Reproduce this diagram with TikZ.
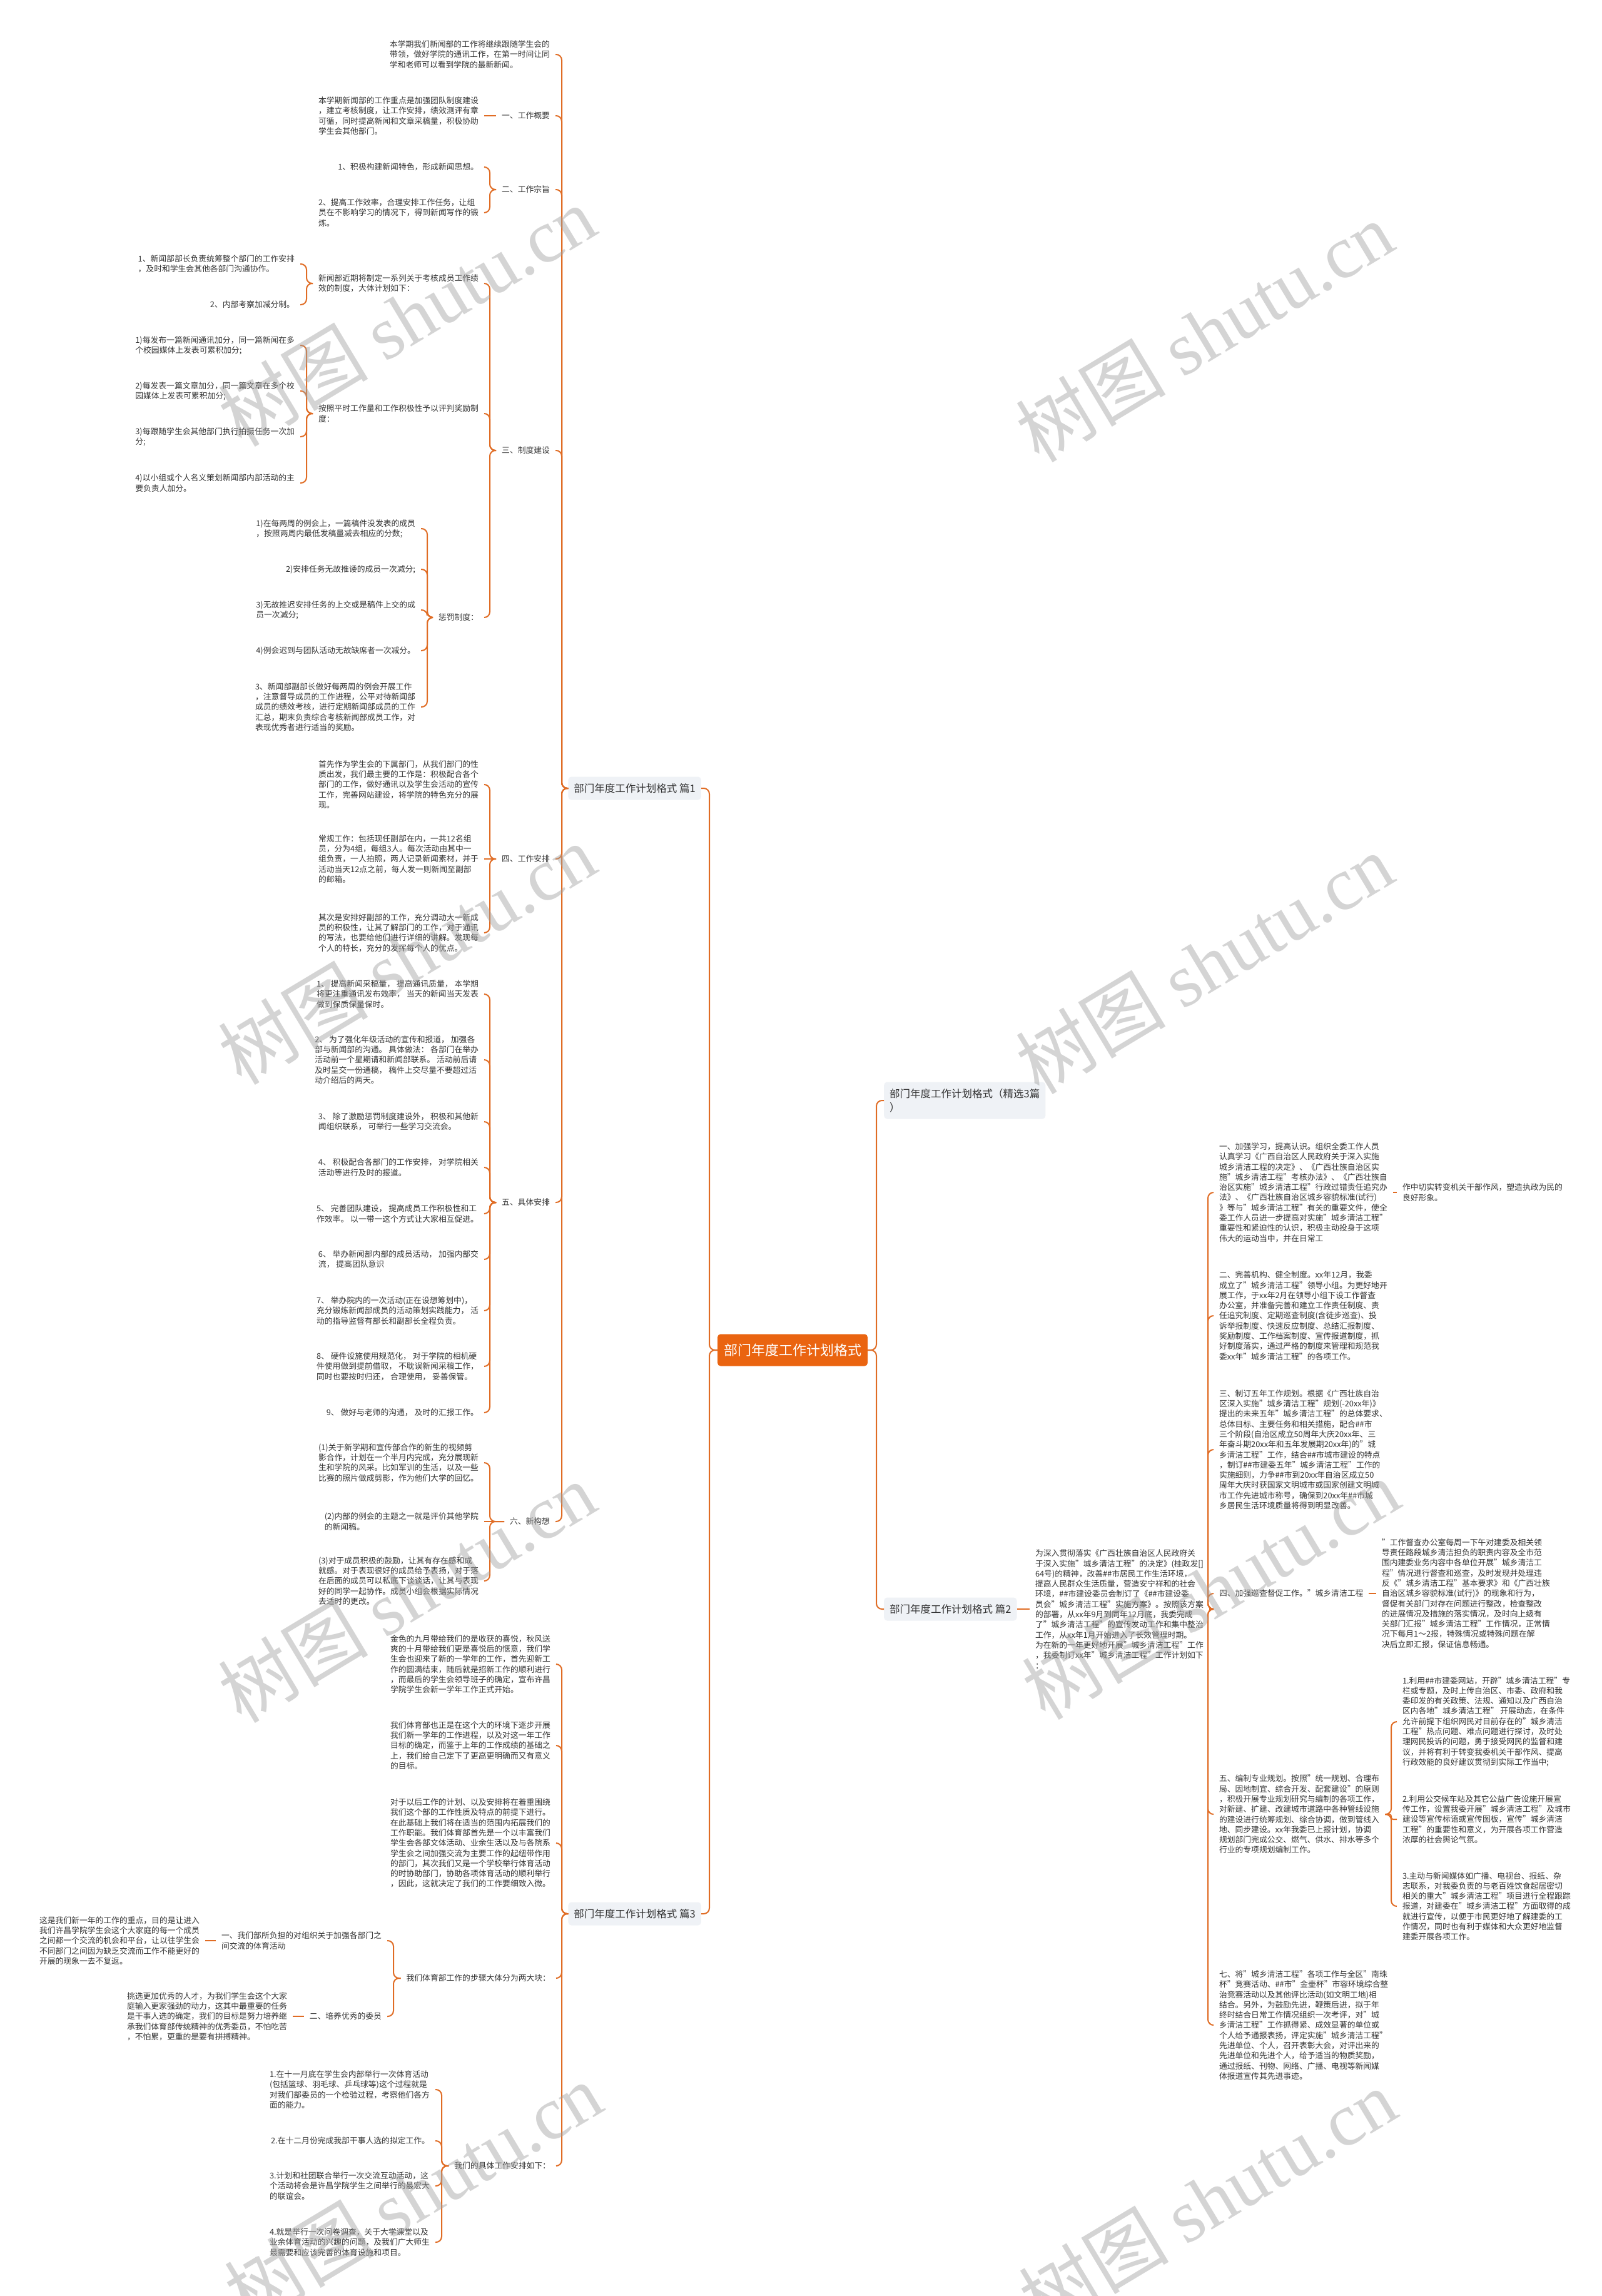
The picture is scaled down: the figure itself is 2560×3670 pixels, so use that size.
\documentclass[tikz,border=0pt]{standalone}
\usepackage{fontspec}
\setmainfont{Noto Sans CJK SC}
\newfontfamily\wmlat{Liberation Serif}
\definecolor{lc}{RGB}{224,108,36}
\definecolor{cf}{RGB}{234,100,16}
\definecolor{sf}{RGB}{239,242,246}
\definecolor{tc}{RGB}{51,51,51}
\definecolor{wmc}{RGB}{160,160,160}
\newcommand\lkL[3]{\draw[conn] (#1.west) -- (#1.west -| #3) |- (#2.east);}
\newcommand\lkR[3]{\draw[conn] (#1.east) -- (#1.east -| #3) |- (#2.west);}
\begin{document}
\begin{tikzpicture}[x=1pt,y=-1pt,
  txt/.style={font={\fontsize{12.8pt}{16.3pt}\selectfont},text=tc,align=left,inner sep=0pt,outer xsep=9pt,outer ysep=0pt},
  L/.style={txt,anchor=east},
  R/.style={txt,anchor=west},
  sub/.style={fill=sf,rounded corners=5pt,font={\fontsize{16.5pt}{22pt}\selectfont},text=tc,inner xsep=9pt,inner ysep=0pt,minimum height=37pt,align=left},
  conn/.style={draw=lc,line width=2pt,rounded corners=9pt},
  wm/.style={font={\fontsize{120pt}{120pt}\selectfont},text=wmc,text opacity=0.45,inner sep=0pt}]
\useasboundingbox (0,0) rectangle (2560,3670);
\fill[white] (0,0) rectangle (2560,3670);
% spine coordinates
\coordinate (cL) at (1134,0);
\coordinate (cR) at (1401,0);
\coordinate (s1) at (898,0);
\coordinate (s1b) at (783,0);
\coordinate (s3a) at (490,0);
\coordinate (s3b) at (683,0);
\coordinate (s3c) at (629,0);
\coordinate (s3f) at (706,0);
\coordinate (s2b) at (1931,0);
\coordinate (s2c) at (2224,0);
% center
\node[fill=cf,rounded corners=5pt,text=white,font={\fontsize{22pt}{26pt}\selectfont},inner xsep=10pt,inner ysep=0pt,minimum height=51pt] (c) at (1267,2158) {部门年度工作计划格式};
% subtopics
\node[sub,anchor=east] (p1) at (1121,1260) {部门年度工作计划格式 篇1};
\node[sub,anchor=east] (p3) at (1121,3059) {部门年度工作计划格式 篇3};
\node[sub,anchor=west,inner ysep=8pt,minimum height=59pt] (jx) at (1413,1759) {部门年度工作计划格式（精选3篇\\）};
\node[sub,anchor=west] (p2) at (1413,2572) {部门年度工作计划格式 篇2};
% ---------- 篇1 ----------
\node[L] (a0) at (888,87) {本学期我们新闻部的工作将继续跟随学生会的\\带领，做好学院的通讯工作，在第一时间让同\\学和老师可以看到学院的最新新闻。};
\node[L] (a1) at (888,185) {一、工作概要};
\node[L] (a2) at (888,303) {二、工作宗旨};
\node[L] (a3) at (888,720) {三、制度建设};
\node[L] (a4) at (888,1373) {四、工作安排};
\node[L] (a5) at (888,1922) {五、具体安排};
\node[L] (a6) at (888,2432) {六、新构想};
\node[L] (a1c) at (774,185) {本学期新闻部的工作重点是加强团队制度建设\\，建立考核制度，让工作安排，绩效测评有章\\可循，同时提高新闻和文章采稿量，积极协助\\学生会其他部门。};
\node[L] (a2c1) at (774,267) {1、积极构建新闻特色，形成新闻思想。};
\node[L] (a2c2) at (774,340) {2、提高工作效率，合理安排工作任务，让组\\员在不影响学习的情况下，得到新闻写作的锻\\炼。};
\node[L] (a3c1) at (774,453) {新闻部近期将制定一系列关于考核成员工作绩\\效的制度，大体计划如下：};
\node[L] (a3c2) at (774,661) {按照平时工作量和工作积极性予以评判奖励制\\度：};
\node[L] (a3c3) at (774,987) {惩罚制度：};
\node[L] (b1) at (480,422) {1、新闻部部长负责统筹整个部门的工作安排\\，及时和学生会其他各部门沟通协作。};
\node[L] (b2) at (480,487) {2、内部考察加减分制。};
\node[L] (b3) at (480,552) {1)每发布一篇新闻通讯加分，同一篇新闻在多\\个校园媒体上发表可累积加分;};
\node[L] (b4) at (480,625) {2)每发表一篇文章加分，同一篇文章在多个校\\园媒体上发表可累积加分;};
\node[L] (b5) at (480,698) {3)每跟随学生会其他部门执行拍摄任务一次加\\分;};
\node[L] (b6) at (480,772) {4)以小组或个人名义策划新闻部内部活动的主\\要负责人加分。};
\node[L] (b7) at (673,845) {1)在每两周的例会上，一篇稿件没发表的成员\\，按照两周内最低发稿量减去相应的分数;};
\node[L] (b8) at (673,910) {2)安排任务无故推诿的成员一次减分;};
\node[L] (b9) at (673,975) {3)无故推迟安排任务的上交或是稿件上交的成\\员一次减分;};
\node[L] (b10) at (673,1040) {4)例会迟到与团队活动无故缺席者一次减分。};
\node[L] (b11) at (673,1130) {3、新闻部副部长做好每两周的例会开展工作\\，注意督导成员的工作进程，公平对待新闻部\\成员的绩效考核，进行定期新闻部成员的工作\\汇总，期末负责综合考核新闻部成员工作，对\\表现优秀者进行适当的奖励。};
\node[L] (a4c1) at (774,1254) {首先作为学生会的下属部门，从我们部门的性\\质出发，我们最主要的工作是：积极配合各个\\部门的工作，做好通讯以及学生会活动的宣传\\工作，完善网站建设，将学院的特色充分的展\\现。};
\node[L] (a4c2) at (774,1373) {常规工作：包括现任副部在内，一共12名组\\员，分为4组，每组3人。每次活动由其中一\\组负责，一人拍照，两人记录新闻素材，并于\\活动当天12点之前，每人发一则新闻至副部\\的邮箱。};
\node[L] (a4c3) at (774,1491) {其次是安排好副部的工作，充分调动大一新成\\员的积极性，让其了解部门的工作，对于通讯\\的写法，也要给他们进行详细的讲解。发现每\\个人的特长，充分的发挥每个人的优点。};
\node[L] (a5c1) at (774,1589) {1、 提高新闻采稿量， 提高通讯质量， 本学期\\将更注重通讯发布效率， 当天的新闻当天发表\\做到保质保量保时。};
\node[L] (a5c2) at (774,1694) {2、 为了强化年级活动的宣传和报道， 加强各\\部与新闻部的沟通。 具体做法： 各部门在举办\\活动前一个星期请和新闻部联系。 活动前后请\\及时呈交一份通稿， 稿件上交尽量不要超过活\\动介绍后的两天。};
\node[L] (a5c3) at (774,1793) {3、 除了激励惩罚制度建设外， 积极和其他新\\闻组织联系， 可举行一些学习交流会。};
\node[L] (a5c4) at (774,1866) {4、 积极配合各部门的工作安排， 对学院相关\\活动等进行及时的报道。};
\node[L] (a5c5) at (774,1940) {5、 完善团队建设， 提高成员工作积极性和工\\作效率。 以一带一这个方式让大家相互促进。};
\node[L] (a5c6) at (774,2013) {6、 举办新闻部内部的成员活动， 加强内部交\\流， 提高团队意识};
\node[L] (a5c7) at (774,2095) {7、 举办院内的一次活动(正在设想筹划中)，\\充分锻炼新闻部成员的活动策划实践能力， 活\\动的指导监督有部长和副部长全程负责。};
\node[L] (a5c8) at (774,2184) {8、 硬件设施使用规范化， 对于学院的相机硬\\件使用做到提前借取， 不耽误新闻采稿工作，\\同时也要按时归还， 合理使用， 妥善保管。};
\node[L] (a5c9) at (774,2258) {9、 做好与老师的沟通， 及时的汇报工作。};
\node[L] (a6c1) at (774,2338) {(1)关于新学期和宣传部合作的新生的视频剪\\影合作，计划在一个半月内完成，充分展现新\\生和学院的风采。比如军训的生活，以及一些\\比赛的照片做成剪影，作为他们大学的回忆。};
\node[L] (a6c2) at (774,2432) {(2)内部的例会的主题之一就是评价其他学院\\的新闻稿。};
\node[L] (a6c3) at (774,2527) {(3)对于成员积极的鼓励，让其有存在感和成\\就感。对于表现很好的成员给予表扬，对于落\\在后面的成员可以私底下谈谈话，让其与表现\\好的同学一起协作。成员小组会根据实际情况\\去适时的更改。};
% ---------- 篇3 ----------
\node[L] (d1) at (889,2660) {金色的九月带给我们的是收获的喜悦，秋风送\\爽的十月带给我们更是喜悦后的惬意，我们学\\生会也迎来了新的一学年的工作，首先迎新工\\作的圆满结束，随后就是招新工作的顺利进行\\，而最后的学生会领导班子的确定，宣布许昌\\学院学生会新一学年工作正式开始。};
\node[L] (d2) at (889,2790) {我们体育部也正是在这个大的环境下逐步开展\\我们新一学年的工作进程，以及对这一年工作\\目标的确定，而鉴于上年的工作成绩的基础之\\上，我们给自己定下了更高更明确而又有意义\\的目标。};
\node[L] (d3) at (889,2946) {对于以后工作的计划、以及安排将在着重围绕\\我们这个部的工作性质及特点的前提下进行。\\在此基础上我们将在适当的范围内拓展我们的\\工作职能。我们体育部首先是一个以丰富我们\\学生会各部文体活动、业余生活以及与各院系\\学生会之间加强交流为主要工作的起纽带作用\\的部门，其次我们又是一个学校举行体育活动\\的时协助部门，协助各项体育活动的顺利举行\\，因此，这就决定了我们的工作要细致入微。};
\node[L] (d4) at (889,3162) {我们体育部工作的步骤大体分为两大块：};
\node[L] (d5) at (889,3462) {我们的具体工作安排如下：};
\node[L] (e1) at (619,3102) {一、我们部所负担的对组织关于加强各部门之\\间交流的体育活动};
\node[L] (e2) at (619,3223) {二、培养优秀的委员};
\node[L] (f1) at (328,3102) {这是我们新一年的工作的重点，目的是让进入\\我们许昌学院学生会这个大家庭的每一个成员\\之间都一个交流的机会和平台，让以往学生会\\不同部门之间因为缺乏交流而工作不能更好的\\开展的现象一去不复返。};
\node[L] (f2) at (468,3223) {挑选更加优秀的人才，为我们学生会这个大家\\庭输入更家强劲的动力，这其中最重要的任务\\是干事人选的确定，我们的目标是努力培养继\\承我们体育部传统精神的优秀委员，不怕吃苦\\，不怕累，更重的是要有拼搏精神。};
\node[L] (g1) at (696,3340) {1.在十一月底在学生会内部举行一次体育活动\\(包括篮球、羽毛球、乒乓球等)这个过程就是\\对我们部委员的一个检验过程，考察他们各方\\面的能力。};
\node[L] (g2) at (696,3422) {2.在十二月份完成我部干事人选的拟定工作。};
\node[L] (g3) at (696,3494) {3.计划和社团联合举行一次交流互动活动，这\\个活动将会是许昌学院学生之间举行的最宏大\\的联谊会。};
\node[L] (g4) at (696,3584) {4.就是举行一次问卷调查，关于大学课堂以及\\业余体育活动的兴趣的问题，及我们广大师生\\最需要和应该完善的体育设施和项目。};
% ---------- 篇2 ----------
\node[R] (h0) at (1646,2572) {为深入贯彻落实《广西壮族自治区人民政府关\\于深入实施"城乡清洁工程"的决定》(桂政发[]\\64号)的精神，改善\#\#市居民工作生活环境，\\提高人民群众生活质量，营造安宁祥和的社会\\环境，\#\#市建设委员会制订了《\#\#市建设委\\员会"城乡清洁工程"实施方案》。按照该方案\\的部署，从xx年9月到同年12月底，我委完成\\了"城乡清洁工程"的宣传发动工作和集中整治\\工作，从xx年1月开始进入了长效管理时期。\\为在新的一年更好地开展"城乡清洁工程"工作\\，我委制订xx年"城乡清洁工程"工作计划如下\\：};
\node[R] (h1) at (1940,1906) {一、加强学习，提高认识。组织全委工作人员\\认真学习《广西自治区人民政府关于深入实施\\城乡清洁工程的决定》、《广西壮族自治区实\\施"城乡清洁工程"考核办法》、《广西壮族自\\治区实施"城乡清洁工程"行政过错责任追究办\\法》、《广西壮族自治区城乡容貌标准(试行)\\》等与"城乡清洁工程"有关的重要文件，使全\\委工作人员进一步提高对实施"城乡清洁工程"\\重要性和紧迫性的认识，积极主动投身于这项\\伟大的运动当中，并在日常工};
\node[R] (h1c) at (2233,1906) {作中切实转变机关干部作风，塑造执政为民的\\良好形象。};
\node[R] (h2) at (1940,2103) {二、完善机构、健全制度。xx年12月，我委\\成立了"城乡清洁工程"领导小组。为更好地开\\展工作，于xx年2月在领导小组下设工作督查\\办公室，并准备完善和建立工作责任制度、责\\任追究制度、定期巡查制度(含徒步巡查)、投\\诉举报制度、快速反应制度、总结汇报制度、\\奖励制度、工作档案制度、宣传报道制度，抓\\好制度落实，通过严格的制度来管理和规范我\\委xx年"城乡清洁工程"的各项工作。};
\node[R] (h3) at (1940,2317) {三、制订五年工作规划。根据《广西壮族自治\\区深入实施"城乡清洁工程"规划(-20xx年)》\\提出的未来五年"城乡清洁工程"的总体要求、\\总体目标、主要任务和相关措施，配合\#\#市\\三个阶段(自治区成立50周年大庆20xx年、三\\年奋斗期20xx年和五年发展期20xx年)的"城\\乡清洁工程"工作，结合\#\#市城市建设的特点\\，制订\#\#市建委五年"城乡清洁工程"工作的\\实施细则，力争\#\#市到20xx年自治区成立50\\周年大庆时获国家文明城市或国家创建文明城\\市工作先进城市称号，确保到20xx年\#\#市城\\乡居民生活环境质量将得到明显改善。};
\node[R] (h4) at (1940,2547) {四、加强巡查督促工作。"城乡清洁工程};
\node[R] (h4c) at (2200,2547) {"工作督查办公室每周一下午对建委及相关领\\导责任路段城乡清洁担负的职责内容及全市范\\围内建委业务内容中各单位开展"城乡清洁工\\程"情况进行督查和巡查，及时发现并处理违\\反《"城乡清洁工程"基本要求》和《广西壮族\\自治区城乡容貌标准(试行)》的现象和行为，\\督促有关部门对存在问题进行整改，检查整改\\的进展情况及措施的落实情况，及时向上级有\\关部门汇报"城乡清洁工程"工作情况，正常情\\况下每月1～2报，特殊情况或特殊问题在解\\决后立即汇报，保证信息畅通。};
\node[R] (h5) at (1940,2900) {五、编制专业规划。按照"统一规划、合理布\\局、因地制宜、综合开发、配套建设"的原则\\，积极开展专业规划研究与编制的各项工作，\\对新建、扩建、改建城市道路中各种管线设施\\的建设进行统筹规划、综合协调，做到管线入\\地、同步建设。xx年我委已上报计划，协调\\规划部门完成公交、燃气、供水、排水等多个\\行业的专项规划编制工作。};
\node[R] (k1) at (2233,2752) {1.利用\#\#市建委网站，开辟"城乡清洁工程"专\\栏或专题，及时上传自治区、市委、政府和我\\委印发的有关政策、法规、通知以及广西自治\\区内各地"城乡清洁工程" 开展动态，在条件\\允许前提下组织网民对目前存在的"城乡清洁\\工程"热点问题、难点问题进行探讨，及时处\\理网民投诉的问题，勇于接受网民的监督和建\\议，并将有利于转变我委机关干部作风、提高\\行政效能的良好建议贯彻到实际工作当中;};
\node[R] (k2) at (2233,2908) {2.利用公交候车站及其它公益广告设施开展宣\\传工作，设置我委开展"城乡清洁工程"及城市\\建设等宣传标语或宣传图板，宣传"城乡清洁\\工程"的重要性和意义，为开展各项工作营造\\浓厚的社会舆论气氛。};
\node[R] (k3) at (2233,3047) {3.主动与新闻媒体如广播、电视台、报纸、杂\\志联系，对我委负责的与老百姓饮食起居密切\\相关的重大"城乡清洁工程"项目进行全程跟踪\\报道，对建委在"城乡清洁工程"方面取得的成\\就进行宣传，以便于市民更好地了解建委的工\\作情况，同时也有利于媒体和大众更好地监督\\建委开展各项工作。};
\node[R] (h6) at (1940,3237) {七、将"城乡清洁工程"各项工作与全区"南珠\\杯"竞赛活动、\#\#市"金壶杯"市容环境综合整\\治竞赛活动以及其他评比活动(如文明工地)相\\结合。另外，为鼓励先进，鞭策后进，拟于年\\终时结合日常工作情况组织一次考评，对"城\\乡清洁工程"工作抓得紧、成效显著的单位或\\个人给予通报表扬，评定实施"城乡清洁工程"\\先进单位、个人，召开表彰大会，对评出来的\\先进单位和先进个人，给予适当的物质奖励，\\通过报纸、刊物、网络、广播、电视等新闻媒\\体报道宣传其先进事迹。};
% ---------- connectors ----------
\draw[conn] (c.west) -- (c.west -| cL) |- (p1.east);
\draw[conn] (c.west) -- (c.west -| cL) |- (p3.east);
\draw[conn] (c.east) -- (c.east -| cR) |- (jx.west);
\draw[conn] (c.east) -- (c.east -| cR) |- (p2.west);
\foreach \n in {a0,a1,a2,a3,a4,a5,a6} {\lkL{p1}{\n}{s1}}
\draw[conn] (a1.west) -- (a1c.east);
\lkL{a2}{a2c1}{s1b} \lkL{a2}{a2c2}{s1b}
\lkL{a3}{a3c1}{s1b} \lkL{a3}{a3c2}{s1b} \lkL{a3}{a3c3}{s1b}
\lkL{a3c1}{b1}{s3a} \lkL{a3c1}{b2}{s3a}
\foreach \n in {b3,b4,b5,b6} {\lkL{a3c2}{\n}{s3a}}
\foreach \n in {b7,b8,b9,b10,b11} {\lkL{a3c3}{\n}{s3b}}
\lkL{a4}{a4c1}{s1b} \draw[conn] (a4.west) -- (a4c2.east); \lkL{a4}{a4c3}{s1b}
\foreach \n in {a5c1,a5c2,a5c3,a5c4,a5c5,a5c6,a5c7,a5c8,a5c9} {\lkL{a5}{\n}{s1b}}
\lkL{a6}{a6c1}{s1b} \draw[conn] (a6.west) -- (a6c2.east); \lkL{a6}{a6c3}{s1b}
\foreach \n in {d1,d2,d3,d4,d5} {\lkL{p3}{\n}{s1}}
\lkL{d4}{e1}{s3c} \lkL{d4}{e2}{s3c}
\draw[conn] (e1.west) -- (f1.east);
\draw[conn] (e2.west) -- (f2.east);
\foreach \n in {g1,g2,g3,g4} {\lkL{d5}{\n}{s3f}}
\draw[conn] (p2.east) -- (h0.west);
\foreach \n in {h1,h2,h3,h4,h5,h6} {\lkR{h0}{\n}{s2b}}
\draw[conn] (h1.east) -- (h1c.west);
\draw[conn] (h4.east) -- (h4c.west);
\lkR{h5}{k1}{s2c} \lkR{h5}{k3}{s2c}
\draw[conn,rounded corners=3pt] (h5.east) -- (h5.east -| s2c) |- (k2.west);
% ---------- watermarks ----------
\node[wm,rotate=31] (w1) at (650,505) {树图 {\wmlat shutu.cn}};
\node[wm,rotate=31] (w2) at (650,1525) {树图 {\wmlat shutu.cn}};
\node[wm,rotate=31] (w3) at (650,2545) {树图 {\wmlat shutu.cn}};
\node[wm,rotate=31] (w4) at (660,3505) {树图 {\wmlat shutu.cn}};
\node[wm,rotate=31] (w5) at (1925,530) {树图 {\wmlat shutu.cn}};
\node[wm,rotate=31] (w6) at (1925,1540) {树图 {\wmlat shutu.cn}};
\node[wm,rotate=31] (w7) at (1935,2540) {树图 {\wmlat shutu.cn}};
\node[wm,rotate=31] (w8) at (1930,3515) {树图 {\wmlat shutu.cn}};
\end{tikzpicture}
\end{document}
